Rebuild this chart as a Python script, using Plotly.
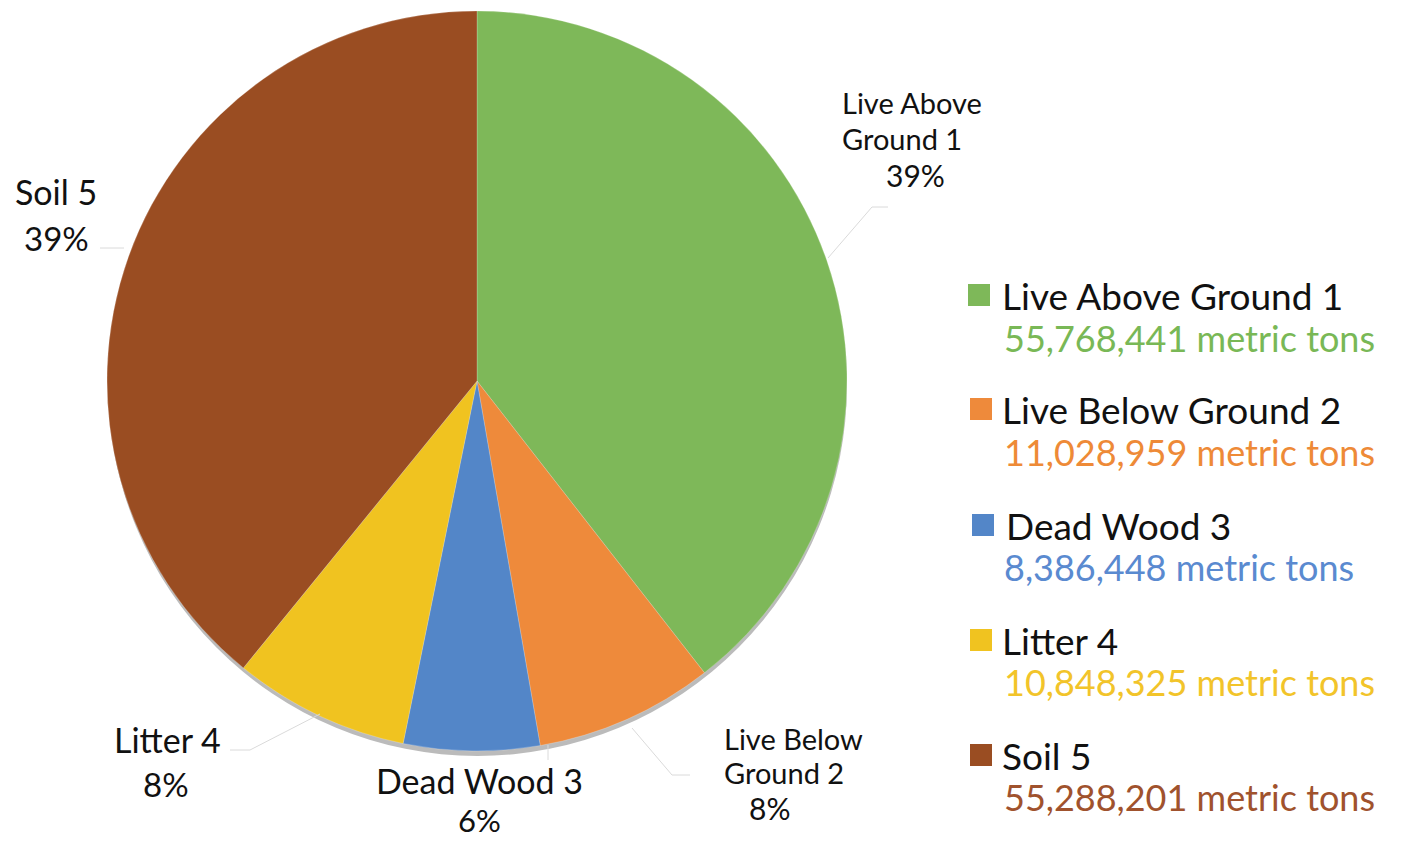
import plotly.graph_objects as go

# Carbon pools and their stocks (metric tons)
pools = ["Live Above Ground 1", "Live Below Ground 2", "Dead Wood 3", "Litter 4", "Soil 5"]
stocks = [55768441, 11028959, 8386448, 10848325, 55288201]
slice_colors = ["#7EB859", "#EE8A3B", "#5386C8", "#F0C320", "#9A4D22"]
legend_colors = ["#79B856", "#EE8A37", "#5A8AD0", "#F2C42A", "#A0522D"]

W, H = 1406, 841
FONT = "Lato"


def px(x):
    return x / W


def py(y):
    return 1 - y / H


total = sum(stocks)
pct = [round(100 * v / total) for v in stocks]

fig = go.Figure()

# soft drop shadow under the pie
fig.add_shape(type="circle", xref="paper", yref="paper",
              x0=px(108), x1=px(847), y0=py(756), y1=py(14),
              fillcolor="rgba(60,60,60,0.35)", line=dict(width=0), layer="below")

fig.add_trace(go.Pie(
    labels=pools,
    values=stocks,
    sort=False,
    direction="clockwise",
    rotation=0,
    marker=dict(colors=slice_colors, line=dict(color="rgba(255,255,255,0.35)", width=0.6)),
    textinfo="none",
    hoverinfo="label+value+percent",
    showlegend=False,
    domain=dict(x=[px(107), px(847)], y=[py(751), py(11)]),
))

anns = []


def label(text, x, y, size=27, color="#111111", xanchor="center"):
    anns.append(dict(text=text, x=px(x), y=py(y), xref="paper", yref="paper",
                     showarrow=False, xanchor=xanchor, yanchor="middle", borderpad=0,
                     font=dict(family=FONT, size=size, color=color)))


# slice labels outside the pie
label("Live Above", 841, 103, size=29, xanchor="left")
label("Ground 1", 841, 138, size=29, xanchor="left")
label(f"{pct[0]}%", 915, 175, size=30)
label("Live Below", 723, 738, size=29, xanchor="left")
label("Ground 2", 723, 772, size=29, xanchor="left")
label(f"{pct[1]}%", 769, 808, size=30)
label("Dead Wood 3", 479, 780, size=34)
label(f"{pct[2]}%", 480, 820, size=31)
label("Litter 4", 167, 739, size=34)
label(f"{pct[3]}%", 166, 784, size=33)
label("Soil 5", 56, 191, size=34)
label(f"{pct[4]}%", 56, 238, size=33)

# leader lines
leaders = [
    [(828, 258), (872, 207), (888, 207)],
    [(632, 728), (672, 775), (690, 775)],
    [(548, 745), (548, 760)],
    [(320, 714), (250, 750), (230, 750)],
    [(124, 248), (100, 248)],
]
shapes = []
for pts in leaders:
    path = "M " + " L ".join(f"{px(x)},{py(y)}" for x, y in pts)
    shapes.append(dict(type="path", path=path, xref="paper", yref="paper",
                       line=dict(color="#DADADA", width=1)))

# custom legend: swatch, pool name and stock
title_y = [295, 409, 525, 640, 755]
value_y = [338, 452, 567, 682, 797]
sq_x = [968, 970, 972, 970, 970]
for i, name in enumerate(pools):
    shapes.append(dict(type="rect", xref="paper", yref="paper",
                       x0=px(sq_x[i]), x1=px(sq_x[i] + 22),
                       y0=py(title_y[i] + 11), y1=py(title_y[i] - 11),
                       fillcolor=slice_colors[i], line=dict(width=0)))
    label(name, 1001 + (4 if i == 2 else 0), title_y[i], size=37, xanchor="left")
    label(f"{stocks[i]:,} metric tons", 1003, value_y[i], size=36,
          color=legend_colors[i], xanchor="left")

fig.update_layout(
    width=W, height=H,
    margin=dict(l=0, r=0, t=0, b=0),
    paper_bgcolor="white",
    plot_bgcolor="white",
    annotations=anns,
    shapes=fig.layout.shapes + tuple(shapes),
)

fig.write_html("out.html")
